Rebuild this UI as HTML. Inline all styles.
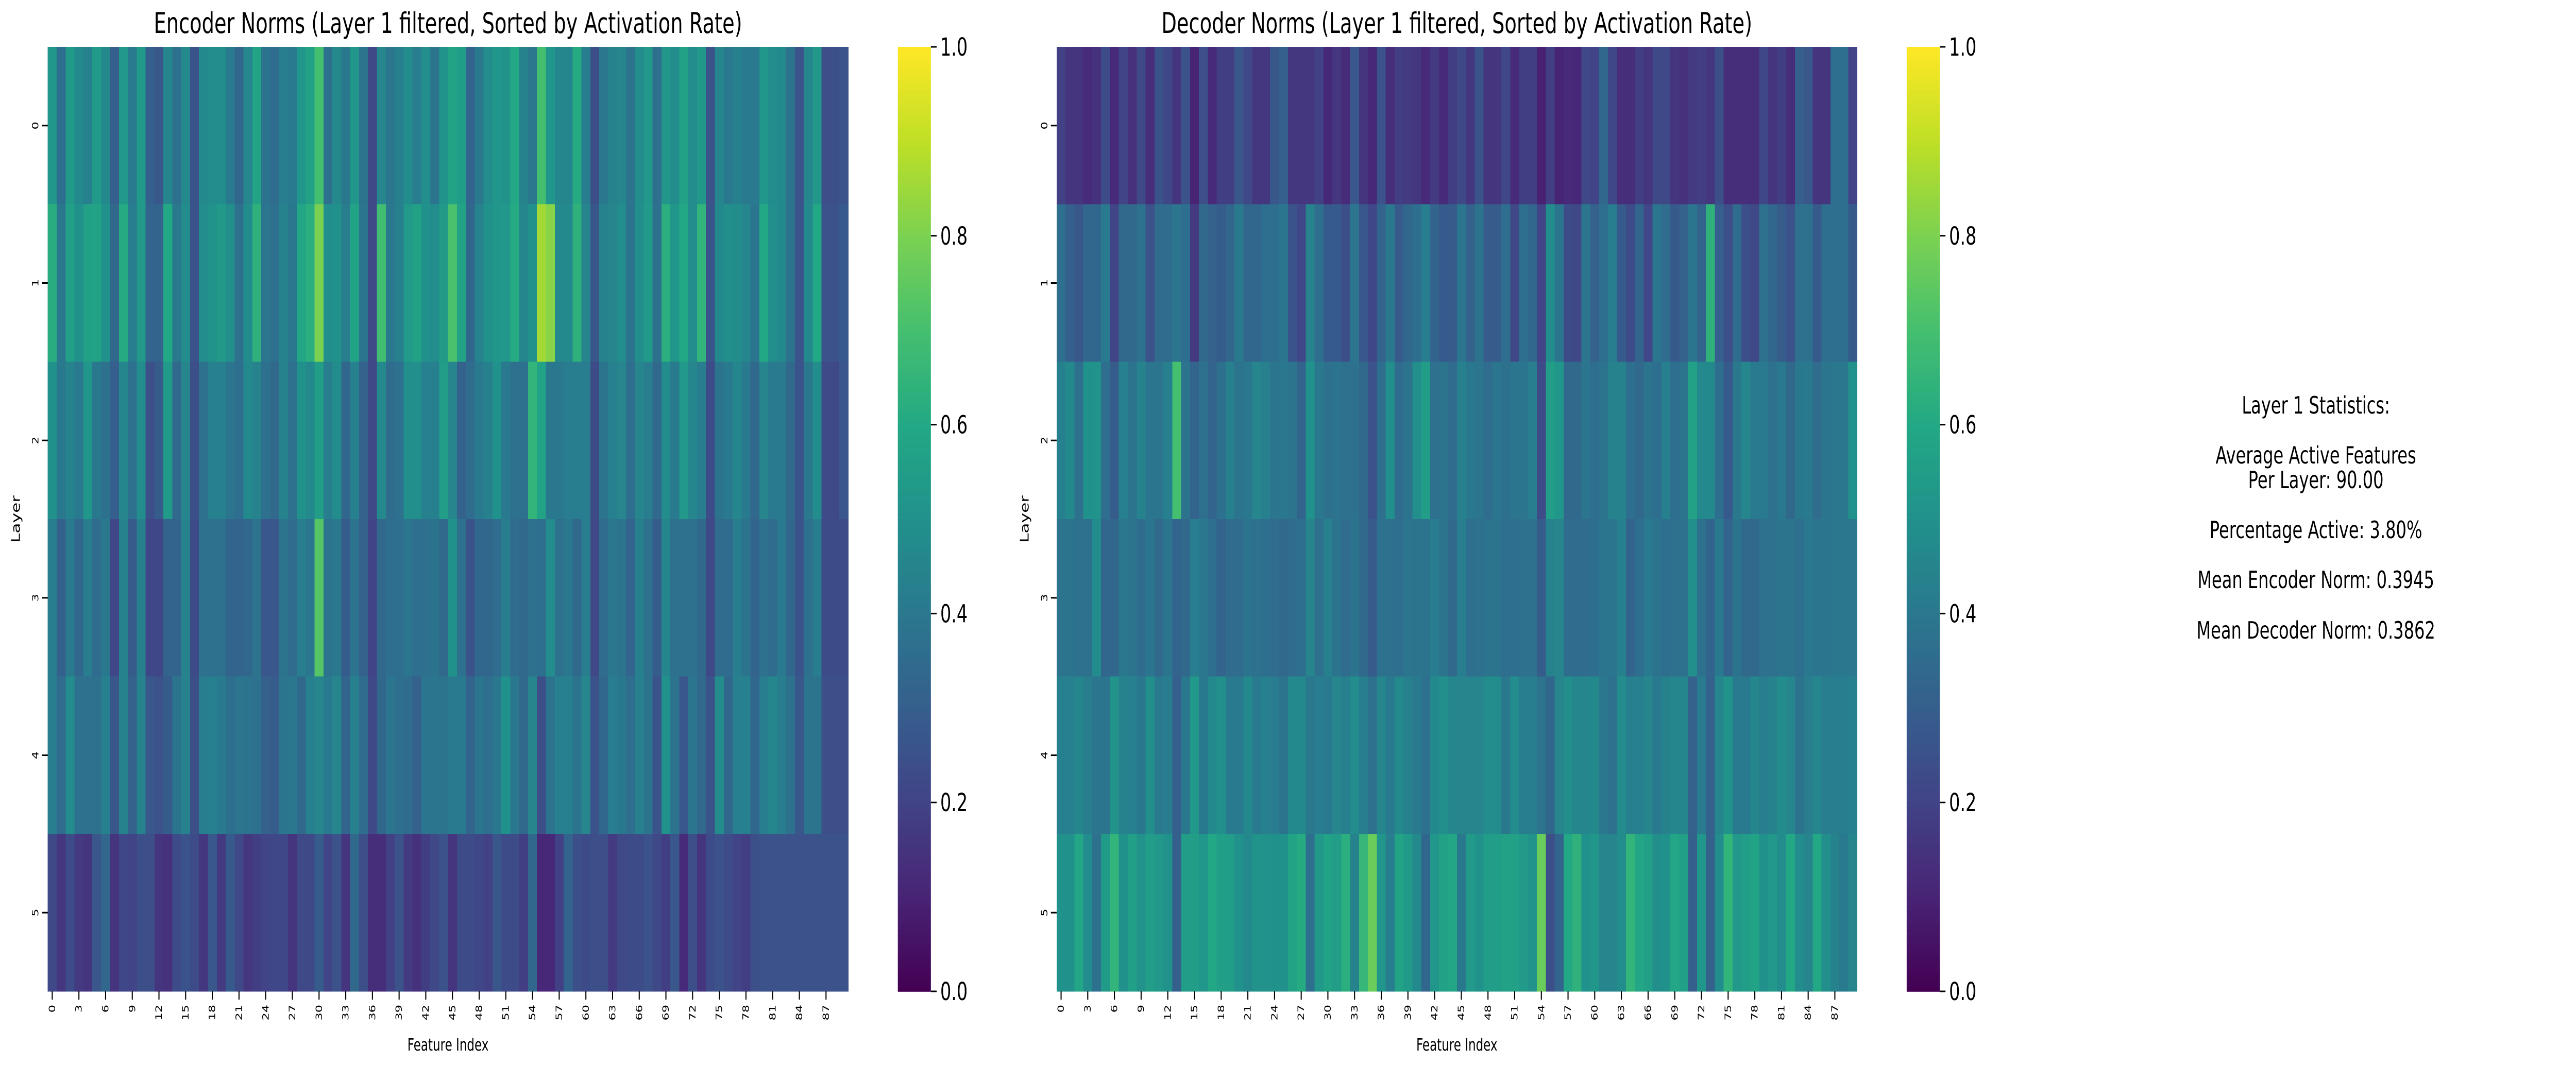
<!DOCTYPE html>
<html><head><meta charset="utf-8"><style>
html,body{margin:0;padding:0;background:#fff;width:100%;height:100%;overflow:hidden;}
#wrap{position:absolute;left:0;top:0;width:100vw;height:100vh;overflow:hidden;}
svg{display:block;width:100%;height:100%;font-family:"DejaVu Sans","Liberation Sans",sans-serif;}
</style></head><body>
<div id="wrap">
<svg id="chart" viewBox="0 0 7170 2068" preserveAspectRatio="none" xmlns="http://www.w3.org/2000/svg">
<g id="enc"></g>
<g id="dec"></g>
<g font-size="46" text-anchor="middle" fill="#000">
<text x="6446" y="803">Layer 1 Statistics:</text>
<text x="6446" y="900">Average Active Features</text>
<text x="6446" y="948">Per Layer: 90.00</text>
<text x="6446" y="1045">Percentage Active: 3.80%</text>
<text x="6446" y="1142">Mean Encoder Norm: 0.3945</text>
<text x="6446" y="1240">Mean Decoder Norm: 0.3862</text>
</g>
</svg>
</div>
<script>
const layers = [0,1,2,3,4,5];
const xTickLabels = [0,3,6,9,12,15,18,21,24,27,30,33,36,39,42,45,48,51,54,57,60,63,66,69,72,75,78,81,84,87];
const cbarTicks = [0.0,0.2,0.4,0.6,0.8,1.0];
const encRow0 = [0.52,0.36,0.54,0.47,0.43,0.54,0.47,0.30,0.53,0.41,0.54,0.30,0.27,0.46,0.37,0.47,0.26,0.47,0.48,0.48,0.41,0.33,0.46,0.58,0.38,0.35,0.42,0.41,0.52,0.57,
0.70,0.37,0.47,0.40,0.52,0.38,0.22,0.45,0.39,0.43,0.48,0.42,0.49,0.39,0.51,0.58,0.55,0.32,0.40,0.48,0.52,0.51,0.60,0.44,0.40,0.70,0.52,0.46,0.46,0.61,
0.42,0.24,0.40,0.44,0.46,0.38,0.48,0.53,0.36,0.52,0.48,0.57,0.48,0.53,0.25,0.45,0.40,0.43,0.41,0.41,0.52,0.48,0.47,0.38,0.25,0.46,0.53,0.24,0.24,0.26];
const encRow1 = [0.62,0.40,0.56,0.50,0.57,0.58,0.50,0.34,0.61,0.42,0.53,0.32,0.32,0.60,0.40,0.48,0.26,0.48,0.51,0.54,0.49,0.37,0.48,0.64,0.39,0.37,0.44,0.40,0.59,0.63,
0.80,0.49,0.50,0.42,0.58,0.39,0.22,0.69,0.40,0.43,0.54,0.57,0.50,0.48,0.54,0.71,0.58,0.33,0.44,0.50,0.52,0.53,0.61,0.46,0.50,0.86,0.82,0.47,0.47,0.64,
0.45,0.27,0.44,0.45,0.48,0.38,0.49,0.54,0.37,0.63,0.52,0.60,0.48,0.65,0.26,0.47,0.49,0.48,0.46,0.39,0.60,0.49,0.47,0.38,0.26,0.47,0.60,0.25,0.25,0.28];
const encRow2 = [0.50,0.40,0.44,0.41,0.52,0.40,0.37,0.30,0.46,0.37,0.48,0.24,0.29,0.54,0.34,0.45,0.24,0.37,0.43,0.43,0.39,0.36,0.47,0.44,0.37,0.34,0.44,0.37,0.50,0.47,
0.55,0.42,0.48,0.33,0.43,0.31,0.22,0.47,0.35,0.37,0.49,0.49,0.43,0.43,0.55,0.45,0.31,0.35,0.41,0.43,0.50,0.41,0.37,0.37,0.65,0.58,0.40,0.40,0.42,0.42,
0.42,0.23,0.38,0.43,0.45,0.36,0.45,0.42,0.34,0.48,0.41,0.53,0.46,0.42,0.23,0.38,0.41,0.46,0.41,0.34,0.45,0.41,0.41,0.34,0.26,0.40,0.48,0.23,0.22,0.27];
const encRow3 = [0.42,0.31,0.41,0.33,0.42,0.35,0.40,0.21,0.44,0.29,0.43,0.21,0.21,0.32,0.32,0.44,0.23,0.37,0.37,0.37,0.32,0.32,0.33,0.38,0.27,0.27,0.38,0.35,0.42,0.39,
0.73,0.38,0.40,0.29,0.38,0.31,0.20,0.34,0.36,0.36,0.39,0.36,0.37,0.38,0.34,0.50,0.37,0.26,0.33,0.33,0.35,0.42,0.35,0.34,0.37,0.36,0.48,0.37,0.40,0.34,
0.42,0.22,0.35,0.40,0.38,0.32,0.43,0.37,0.29,0.46,0.37,0.37,0.37,0.34,0.22,0.35,0.35,0.42,0.38,0.32,0.37,0.35,0.41,0.33,0.26,0.37,0.42,0.23,0.23,0.23];
const encRow4 = [0.42,0.35,0.48,0.37,0.37,0.37,0.43,0.27,0.44,0.31,0.44,0.27,0.25,0.29,0.38,0.44,0.24,0.42,0.43,0.41,0.36,0.39,0.38,0.37,0.31,0.29,0.39,0.40,0.34,0.43,
0.45,0.41,0.45,0.32,0.43,0.35,0.22,0.33,0.39,0.36,0.35,0.31,0.39,0.39,0.38,0.41,0.41,0.32,0.39,0.36,0.40,0.50,0.40,0.34,0.45,0.24,0.38,0.43,0.43,0.38,
0.45,0.25,0.33,0.42,0.40,0.36,0.43,0.38,0.26,0.50,0.38,0.27,0.39,0.34,0.25,0.48,0.33,0.43,0.43,0.33,0.42,0.46,0.42,0.37,0.27,0.38,0.38,0.24,0.24,0.24];
const encRow5 = [0.22,0.16,0.23,0.17,0.15,0.27,0.33,0.15,0.21,0.20,0.24,0.24,0.15,0.14,0.23,0.26,0.23,0.16,0.27,0.17,0.28,0.22,0.16,0.18,0.20,0.21,0.21,0.15,0.22,0.22,
0.29,0.20,0.25,0.15,0.34,0.24,0.13,0.13,0.19,0.25,0.17,0.14,0.18,0.22,0.25,0.15,0.23,0.23,0.21,0.19,0.27,0.23,0.23,0.18,0.33,0.11,0.11,0.19,0.32,0.24,
0.23,0.24,0.24,0.17,0.22,0.23,0.23,0.25,0.22,0.18,0.27,0.12,0.24,0.15,0.23,0.25,0.23,0.20,0.18,0.24,0.25,0.25,0.25,0.25,0.25,0.25,0.25,0.25,0.25,0.25];
const decRow0 = [0.19,0.15,0.15,0.12,0.14,0.23,0.12,0.20,0.14,0.22,0.13,0.26,0.21,0.15,0.25,0.10,0.24,0.12,0.18,0.18,0.27,0.22,0.16,0.16,0.27,0.30,0.16,0.16,0.16,0.19,
0.11,0.16,0.12,0.27,0.15,0.11,0.25,0.13,0.18,0.17,0.16,0.12,0.17,0.12,0.18,0.22,0.16,0.26,0.15,0.15,0.21,0.12,0.18,0.18,0.09,0.18,0.10,0.12,0.11,0.22,
0.20,0.33,0.21,0.13,0.13,0.18,0.15,0.22,0.22,0.15,0.14,0.17,0.18,0.16,0.24,0.13,0.13,0.13,0.13,0.21,0.15,0.18,0.13,0.30,0.27,0.15,0.15,0.36,0.36,0.20];
const decRow1 = [0.36,0.30,0.27,0.33,0.33,0.41,0.20,0.34,0.34,0.37,0.25,0.35,0.35,0.39,0.36,0.17,0.34,0.31,0.29,0.33,0.41,0.33,0.33,0.36,0.36,0.39,0.26,0.21,0.44,0.36,
0.28,0.28,0.24,0.39,0.27,0.21,0.32,0.40,0.28,0.33,0.36,0.42,0.32,0.28,0.29,0.39,0.31,0.38,0.29,0.29,0.36,0.22,0.36,0.33,0.20,0.48,0.39,0.23,0.22,0.39,
0.31,0.36,0.42,0.28,0.23,0.32,0.21,0.39,0.35,0.28,0.31,0.39,0.32,0.64,0.30,0.24,0.35,0.24,0.22,0.37,0.33,0.29,0.25,0.37,0.37,0.28,0.36,0.36,0.36,0.28];
const decRow2 = [0.43,0.47,0.37,0.50,0.51,0.36,0.29,0.43,0.38,0.44,0.39,0.39,0.43,0.70,0.38,0.32,0.37,0.32,0.37,0.43,0.38,0.40,0.45,0.43,0.39,0.40,0.38,0.32,0.50,0.40,
0.37,0.38,0.37,0.37,0.34,0.25,0.36,0.49,0.35,0.38,0.49,0.55,0.37,0.38,0.35,0.43,0.40,0.39,0.35,0.39,0.37,0.39,0.39,0.42,0.23,0.55,0.52,0.34,0.34,0.39,
0.36,0.38,0.44,0.44,0.36,0.34,0.38,0.36,0.43,0.36,0.38,0.57,0.47,0.47,0.36,0.28,0.40,0.46,0.41,0.41,0.37,0.40,0.34,0.40,0.41,0.35,0.39,0.40,0.40,0.50];
const decRow3 = [0.38,0.38,0.37,0.37,0.48,0.33,0.33,0.40,0.38,0.35,0.39,0.34,0.39,0.32,0.34,0.42,0.40,0.36,0.32,0.35,0.35,0.38,0.37,0.36,0.35,0.34,0.35,0.36,0.45,0.37,
0.43,0.38,0.35,0.38,0.34,0.29,0.37,0.37,0.36,0.39,0.38,0.38,0.42,0.38,0.34,0.42,0.36,0.37,0.38,0.38,0.36,0.36,0.37,0.37,0.29,0.44,0.45,0.35,0.35,0.35,
0.36,0.39,0.39,0.43,0.32,0.36,0.41,0.38,0.36,0.37,0.37,0.49,0.37,0.32,0.41,0.32,0.38,0.34,0.34,0.37,0.37,0.38,0.38,0.36,0.40,0.39,0.39,0.40,0.40,0.40];
const decRow4 = [0.43,0.43,0.46,0.42,0.39,0.39,0.51,0.44,0.43,0.40,0.49,0.41,0.42,0.30,0.40,0.53,0.40,0.47,0.49,0.41,0.41,0.47,0.41,0.43,0.42,0.38,0.47,0.47,0.40,0.42,
0.41,0.45,0.43,0.48,0.42,0.37,0.46,0.41,0.47,0.43,0.41,0.37,0.47,0.49,0.46,0.45,0.45,0.45,0.48,0.48,0.40,0.48,0.42,0.42,0.38,0.33,0.45,0.49,0.46,0.46,
0.47,0.40,0.37,0.48,0.43,0.43,0.45,0.41,0.44,0.46,0.46,0.31,0.41,0.31,0.46,0.51,0.41,0.41,0.46,0.42,0.44,0.48,0.46,0.38,0.42,0.46,0.42,0.42,0.42,0.43];
const decRow5 = [0.50,0.50,0.59,0.48,0.37,0.54,0.65,0.50,0.56,0.51,0.55,0.53,0.50,0.30,0.55,0.55,0.52,0.60,0.56,0.55,0.50,0.47,0.51,0.51,0.50,0.50,0.58,0.61,0.36,0.53,
0.58,0.55,0.63,0.44,0.66,0.77,0.52,0.42,0.58,0.54,0.47,0.33,0.52,0.57,0.59,0.40,0.54,0.50,0.55,0.55,0.57,0.57,0.54,0.51,0.77,0.24,0.32,0.60,0.64,0.50,
0.52,0.45,0.45,0.48,0.65,0.59,0.56,0.49,0.50,0.59,0.56,0.30,0.52,0.31,0.48,0.65,0.53,0.55,0.58,0.50,0.53,0.48,0.60,0.48,0.45,0.60,0.49,0.44,0.41,0.46];
const encData = [encRow0,encRow1,encRow2,encRow3,encRow4,encRow5];
const decData = [decRow0,decRow1,decRow2,decRow3,decRow4,decRow5];

const NS = "http://www.w3.org/2000/svg";
const VIR = ["#440154","#482475","#414487","#355f8d","#2a788e","#21918c","#22a884","#44bf70","#7ad151","#bddf26","#fde725"];
function hex(h){return [parseInt(h.substr(1,2),16),parseInt(h.substr(3,2),16),parseInt(h.substr(5,2),16)];}
function viridis(v){
  v=Math.max(0,Math.min(1,v));
  const p=v*10, i=Math.min(9,Math.floor(p)), t=p-i;
  const a=hex(VIR[i]), b=hex(VIR[i+1]);
  return "rgb("+a.map((c,k)=>Math.round(c+(b[k]-c)*t)).join(",")+")";
}
function mk(tag, attrs, parent){
  const e=document.createElementNS(NS,tag);
  for(const k in attrs) e.setAttribute(k,attrs[k]);
  parent.appendChild(e); return e;
}
function drawPanel(g, data, x0, title, prefix){
  const top=91, W=2228, H=1834, ncol=data[0].length, nrow=layers.length;
  const cw=W/ncol, rh=H/nrow;
  const xs=c=>x0+c*cw, ys=r=>top+r*rh;
  const t=mk("text",{x:x0+W/2,y:64,"font-size":55,"text-anchor":"middle"},g);
  t.textContent=title;
  
  
  const cells=mk("g",{"shape-rendering":"crispEdges"},g);
  
  
  data.forEach((row,r)=>row.forEach((v,c)=>{
    const rc=mk("rect",{x:xs(c),y:ys(r),width:cw+0.6,height:rh+0.6,fill:viridis(v)},cells);
    
    
  }));
  xTickLabels.forEach(l=>{
    const cx=xs(l)+cw/2;
    const tk=mk("line",{x1:cx,x2:cx,y1:top+H,y2:top+H+16,stroke:"#000","stroke-width":3},g);
    
    
    const tl=mk("text",{x:0,y:0,"font-size":24,"text-anchor":"end",transform:"translate("+(cx+8)+","+(top+H+26)+") rotate(-90)"},g);
    tl.textContent=l;
    
    
  });
  layers.forEach(l=>{
    const cy=ys(l)+rh/2;
    const tk=mk("line",{x1:x0-16,x2:x0,y1:cy,y2:cy,stroke:"#000","stroke-width":3},g);
    
    
    const tl=mk("text",{x:0,y:0,"font-size":24,"text-anchor":"middle",transform:"translate("+(x0-26)+","+cy+") rotate(-90)"},g);
    tl.textContent=l;
    
    
  });
  const xl=mk("text",{x:x0+W/2,y:2040,"font-size":33,"text-anchor":"middle"},g);
  xl.textContent="Feature Index";
  
  
  const yl=mk("text",{x:0,y:0,"font-size":33,"text-anchor":"middle",transform:"translate("+(x0-78)+","+(top+H/2)+") rotate(-90)"},g);
  yl.textContent="Layer";
  
  
  const cbx=x0+W+138, cbw=92;
  const cb=mk("g",{},g);
  
  
  const n=200;
  for(let i=0;i<n;i++){
    const v=i/(n-1);
    mk("rect",{x:cbx,y:top+H-(i+1)*H/n,width:cbw,height:H/n+0.8,fill:viridis(v)},cb);
  }
  cbarTicks.forEach(v=>{
    const y=top+H-v*H;
    const tk=mk("line",{x1:cbx+cbw,x2:cbx+cbw+16,y1:y,y2:y,stroke:"#000","stroke-width":3},cb);
    
    
    const tl=mk("text",{x:cbx+cbw+26,y:y+17,"font-size":48},cb);
    tl.textContent=v.toFixed(1);
    
    
  });
}
drawPanel(document.getElementById("enc"), encData, 133, "Encoder Norms (Layer 1 filtered, Sorted by Activation Rate)", "encoder");
drawPanel(document.getElementById("dec"), decData, 2941, "Decoder Norms (Layer 1 filtered, Sorted by Activation Rate)", "decoder");
</script>
</body></html>
